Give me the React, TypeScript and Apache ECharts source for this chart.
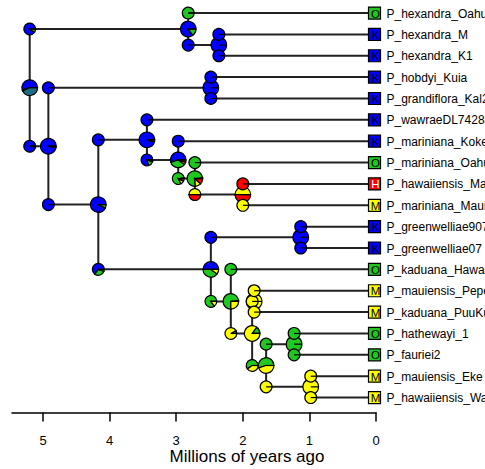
import React, { useEffect, useRef } from 'react';
import * as echarts from 'echarts';

// ---- tips ----
const tipNames = [
  'P_hexandra_Oahu', 'P_hexandra_M', 'P_hexandra_K1', 'P_hobdyi_Kuia', 'P_grandiflora_Kal2',
  'P_wawraeDL7428', 'P_mariniana_Kokee2', 'P_mariniana_Oahu', 'P_hawaiiensis_Makaopuhi',
  'P_mariniana_MauiNui', 'P_greenwelliae907', 'P_greenwelliae07', 'P_kaduana_HawaiiLoa',
  'P_mauiensis_PepeAS', 'P_kaduana_PuuKukuiAS', 'P_hathewayi_1', 'P_fauriei2',
  'P_mauiensis_Eke', 'P_hawaiiensis_WaikamoiL1',
];
const tipAreas = ['O', 'K', 'K', 'K', 'K', 'K', 'K', 'O', 'H', 'M', 'K', 'K', 'O', 'M', 'M', 'O', 'O', 'M', 'M'];

// ---- states ----
const stateNames = ['K', 'O', 'M', 'H', 'KO'];
const stateColors = ['#0000FF', '#1EC81E', '#FFFF00', '#FF0000', '#1A6E80'];

// ---- internal nodes ----
const nodeIds = ['R', 'A', 'B', 'C', 'D', 'E', 'F', 'G', 'H', 'I', 'J', 'K', 'L', 'M', 'N', 'O', 'P', 'Q'];
const nodeAges = [5.2, 2.82, 2.36, 4.92, 2.48, 4.17, 3.44, 2.97, 2.72, 2.0, 2.48, 1.13, 2.18, 1.86, 1.83, 1.65, 1.23, 0.98];
const nodeChildren = [
  ['A', 'C'], ['t1', 'B'], ['t2', 't3'], ['D', 'E'], ['t4', 't5'], ['F', 'J'],
  ['t6', 'G'], ['t7', 'H'], ['t8', 'I'], ['t9', 't10'], ['K', 'L'], ['t11', 't12'],
  ['t13', 'M'], ['N', 'O'], ['t14', 't15'], ['P', 'Q'], ['t16', 't17'], ['t18', 't19'],
];
// probabilities per state [K, O, M, H, KO]
const nodeProbs = [
  [0.55, 0.02, 0, 0, 0.43], [0.85, 0.15, 0, 0, 0], [1, 0, 0, 0, 0], [0.97, 0.03, 0, 0, 0],
  [1, 0, 0, 0, 0], [0.93, 0.07, 0, 0, 0], [0.96, 0.04, 0, 0, 0], [0.55, 0.35, 0.05, 0.05, 0],
  [0.02, 0.74, 0.12, 0.12, 0], [0, 0, 0.5, 0.5, 0], [0.5, 0.4, 0.1, 0, 0], [1, 0, 0, 0, 0],
  [0.02, 0.73, 0.25, 0, 0], [0, 0.15, 0.85, 0, 0], [0, 0, 1, 0, 0], [0, 0.55, 0.45, 0, 0],
  [0, 1, 0, 0, 0], [0, 0, 1, 0, 0],
];
const topCornerProbs = [
  [0.9, 0.1, 0, 0, 0], [0.02, 0.98, 0, 0, 0], [1, 0, 0, 0, 0], [1, 0, 0, 0, 0],
  [1, 0, 0, 0, 0], [1, 0, 0, 0, 0], [1, 0, 0, 0, 0], [1, 0, 0, 0, 0],
  [0, 1, 0, 0, 0], [0, 0, 0, 1, 0], [1, 0, 0, 0, 0], [1, 0, 0, 0, 0],
  [0, 1, 0, 0, 0], [0, 0, 1, 0, 0], [0, 0, 1, 0, 0], [0, 1, 0, 0, 0],
  [0, 1, 0, 0, 0], [0, 0, 1, 0, 0],
];
const bottomCornerProbs = [
  [0.98, 0.02, 0, 0, 0], [1, 0, 0, 0, 0], [1, 0, 0, 0, 0], [1, 0, 0, 0, 0],
  [1, 0, 0, 0, 0], [0.65, 0.3, 0.05, 0, 0], [0.8, 0.15, 0.03, 0.02, 0], [0.03, 0.8, 0.1, 0.07, 0],
  [0, 0, 0.5, 0.5, 0], [0, 0, 1, 0, 0], [0, 0.85, 0.15, 0, 0], [1, 0, 0, 0, 0],
  [0, 0.08, 0.92, 0, 0], [0, 0.6, 0.4, 0, 0], [0, 0, 1, 0, 0], [0, 0, 1, 0, 0],
  [0, 1, 0, 0, 0], [0, 0, 1, 0, 0],
];

const tickValues = [0, 1, 2, 3, 4, 5];
const axisTitle = 'Millions of years ago';

const FONT = '"Liberation Sans", Arial, Helvetica, sans-serif';

function buildTree() {
  const idx: Record<string, number> = {};
  nodeIds.forEach((id, i) => (idx[id] = i));
  const yCache: Record<string, number> = {};
  const posOf = (id: string): [number, number] => {
    if (id[0] === 't') return [0, parseInt(id.slice(1), 10)];
    const i = idx[id];
    if (yCache[id] === undefined) {
      const [a, b] = nodeChildren[i];
      yCache[id] = (posOf(a)[1] + posOf(b)[1]) / 2;
    }
    return [nodeAges[i], yCache[id]];
  };
  const edges: number[][] = [];
  const pieNodes: number[][] = [];
  const pieCorners: number[][] = [];
  const nodePieProbs: number[][] = [];
  const cornerPieProbs: number[][] = [];
  nodeIds.forEach((id, i) => {
    const [x, y] = posOf(id);
    const [a, b] = nodeChildren[i];
    const pa = posOf(a);
    const pb = posOf(b);
    edges.push([x, pa[1], x, pb[1]]);
    edges.push([x, pa[1], pa[0], pa[1]]);
    edges.push([x, pb[1], pb[0], pb[1]]);
    pieNodes.push([x, y]);
    nodePieProbs.push(nodeProbs[i]);
    pieCorners.push([x, pa[1]]);
    cornerPieProbs.push(topCornerProbs[i]);
    pieCorners.push([x, pb[1]]);
    cornerPieProbs.push(bottomCornerProbs[i]);
  });
  return { edges, pieNodes, pieCorners, nodePieProbs, cornerPieProbs };
}

function pieRenderer(probList: number[][], r: number) {
  return (params: any, api: any) => {
    const c = api.coord([api.value(0), api.value(1)]);
    const probs = probList[params.dataIndex];
    const total = probs.reduce((s, v) => s + v, 0) || 1;
    let cum = 0;
    const children: any[] = [];
    probs.forEach((p, k) => {
      if (p <= 0) return;
      const a0 = cum;
      cum += p / total;
      children.push({
        type: 'sector',
        shape: {
          cx: c[0], cy: c[1], r, r0: 0,
          startAngle: -cum * 2 * Math.PI, endAngle: -a0 * 2 * Math.PI, clockwise: true,
        },
        style: { fill: stateColors[k], stroke: '#000', lineWidth: 1.2 },
      });
    });
    children.push({
      type: 'line',
      shape: { x1: c[0], y1: c[1], x2: c[0] + r, y2: c[1] },
      style: { stroke: '#000', lineWidth: 1.2 },
    });
    return { type: 'group', children };
  };
}

export default function App() {
  const ref = useRef<HTMLDivElement>(null);
  useEffect(() => {
    if (!ref.current) return;
    const chart = echarts.init(ref.current, undefined, { renderer: 'svg' });
    const { edges, pieNodes, pieCorners, nodePieProbs, cornerPieProbs } = buildTree();
    const tipData = tipNames.map((_, i) => [0, i + 1]);

    const option: any = {
      animation: false,
      backgroundColor: '#fff',
      grid: { left: 12, right: 109, top: 0, bottom: 56.5, containLabel: false },
      xAxis: {
        type: 'value', inverse: true, min: 0, max: 5.466,
        axisLine: { show: true, onZero: false, lineStyle: { color: '#000', width: 1.5 } },
        axisTick: { show: true, length: 9, customValues: tickValues, lineStyle: { color: '#000', width: 1.5 } },
        axisLabel: { customValues: tickValues, fontSize: 13, color: '#000', margin: 21, fontFamily: FONT },
        splitLine: { show: false },
      },
      yAxis: { type: 'value', inverse: true, min: 0.39, max: 19.7, show: false },
      graphic: [{
        type: 'text', x: 247, y: 456,
        style: { text: axisTitle, fontSize: 17, fontFamily: FONT, fill: '#000', align: 'center', verticalAlign: 'middle' },
      }],
      series: [
        {
          type: 'custom', name: 'edges', data: edges, encode: { x: [0, 2], y: [1, 3] }, silent: true,
          renderItem: (params: any, api: any) => {
            const p1 = api.coord([api.value(0), api.value(1)]);
            const p2 = api.coord([api.value(2), api.value(3)]);
            return {
              type: 'line', shape: { x1: p1[0], y1: p1[1], x2: p2[0], y2: p2[1] },
              style: { stroke: '#222', lineWidth: 2, lineCap: 'round' },
            };
          },
        },
        {
          type: 'custom', name: 'tips', data: tipData, encode: { x: 0, y: 1 }, silent: true,
          renderItem: (params: any, api: any) => {
            const i = params.dataIndex;
            const c = api.coord([api.value(0), api.value(1)]);
            const area = tipAreas[i];
            const col = stateColors[stateNames.indexOf(area)];
            return {
              type: 'group',
              children: [
                { type: 'rect', shape: { x: c[0] - 7.5, y: c[1] - 6, width: 12, height: 12 }, style: { fill: col, stroke: '#000', lineWidth: 1.2 } },
                { type: 'text', x: c[0] - 0.5, y: c[1] + 0.5, style: { text: area, fontSize: 11.5, fontFamily: FONT, fill: area === 'H' ? '#fff' : '#000', align: 'center', verticalAlign: 'middle' } },
                { type: 'text', x: c[0] + 10.5, y: c[1] + 0.5, style: { text: tipNames[i], fontSize: 12, fontFamily: FONT, fill: '#000', align: 'left', verticalAlign: 'middle' } },
              ],
            };
          },
        },
        {
          type: 'custom', name: 'nodePies', data: pieNodes, encode: { x: 0, y: 1 }, silent: true,
          renderItem: pieRenderer(nodePieProbs, 7.8),
        },
        {
          type: 'custom', name: 'cornerPies', data: pieCorners, encode: { x: 0, y: 1 }, silent: true,
          renderItem: pieRenderer(cornerPieProbs, 5.9),
        },
      ],
    };
    chart.setOption(option);
    return () => chart.dispose();
  }, []);
  return <div ref={ref} style={{ position: 'absolute', left: 0, top: 0, width: 485, height: 469 }} />;
}
